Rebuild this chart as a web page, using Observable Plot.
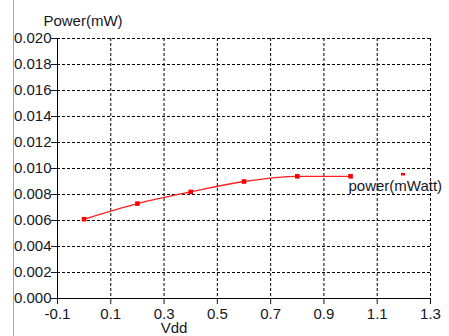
<!DOCTYPE html>
<html>
<head>
<meta charset="utf-8">
<script src="https://cdn.jsdelivr.net/npm/d3@7"></script>
<script src="https://cdn.jsdelivr.net/npm/@observablehq/plot@0.6"></script>
<style>
  html, body { margin: 0; padding: 0; background: #fff; }
  #wrap { position: relative; width: 449px; height: 336px; overflow: hidden; }
  #edge { position: absolute; left: 13px; top: 0; width: 1px; height: 336px; background: #a8a8a8; }
</style>
</head>
<body>
<div id="wrap"><div id="edge"></div></div>
<script>
// Data
const vdd = [0.0, 0.2, 0.4, 0.6, 0.8, 1.0];
const power = [0.0061, 0.0073, 0.0082, 0.0090, 0.0094, 0.0094];
const xTicks = [-0.1, 0.1, 0.3, 0.5, 0.7, 0.9, 1.1, 1.3];
const yTicks = [0, 0.002, 0.004, 0.006, 0.008, 0.010, 0.012, 0.014, 0.016, 0.018, 0.020];
const seriesName = "power(mWatt)";
const xLabel = "Vdd";
const yLabel = "Power(mW)";

const data = vdd.map((v, i) => ({vdd: v, power: power[i]}));
const font = "'Liberation Sans', Arial, sans-serif";
const ink = "#141826";

const chart = Plot.plot({
  width: 449,
  height: 336,
  marginLeft: 57,
  marginRight: 19,
  marginTop: 38,
  marginBottom: 38,
  style: {fontFamily: font, fontSize: "15px", color: ink, background: "transparent", overflow: "visible"},
  x: {domain: [-0.1, 1.3]},
  y: {domain: [0, 0.02]},
  marks: [
    Plot.ruleX(xTicks, {stroke: "#000", strokeWidth: 1, strokeDasharray: "3,2"}),
    Plot.ruleY(yTicks, {stroke: "#000", strokeWidth: 1, strokeDasharray: "3,2"}),
    Plot.ruleX([xTicks[0]], {stroke: "#000", strokeWidth: 1}),
    Plot.ruleY([yTicks[0]], {stroke: "#000", strokeWidth: 1}),
    Plot.axisX({ticks: xTicks, tickFormat: d => d.toFixed(1), tickSize: 6, tickPadding: 4, label: null, fill: ink}),
    Plot.axisY({ticks: yTicks, tickFormat: d => d.toFixed(3), tickSize: 6, tickPadding: 0, label: null, fill: ink}),
    Plot.line(data, {x: "vdd", y: "power", curve: "monotone-x", stroke: "#ff2020", strokeWidth: 1.3}),
    Plot.dot(data, {x: "vdd", y: "power", symbol: "square", r: 2.6, fill: "#ff0000", stroke: "none"}),
    Plot.text([yLabel], {frameAnchor: "top", dx: -161, dy: -17, text: d => d, textAnchor: "middle", lineAnchor: "middle", fill: ink}),
    Plot.text([xLabel], {frameAnchor: "bottom", dx: -70, dy: 30, text: d => d, textAnchor: "middle", lineAnchor: "middle", fill: ink}),
    Plot.text([seriesName], {frameAnchor: "right", dx: -82, dy: 18, text: d => d, textAnchor: "start", lineAnchor: "middle", fill: ink})
  ]
});

chart.style.position = "absolute";
chart.style.left = "0";
chart.style.top = "0";
// legend swatch
d3.select(chart).append("rect")
  .attr("x", 401).attr("y", 173).attr("width", 4).attr("height", 2.5).attr("fill", "#ff0000");

document.getElementById("wrap").appendChild(chart);
</script>
</body>
</html>
